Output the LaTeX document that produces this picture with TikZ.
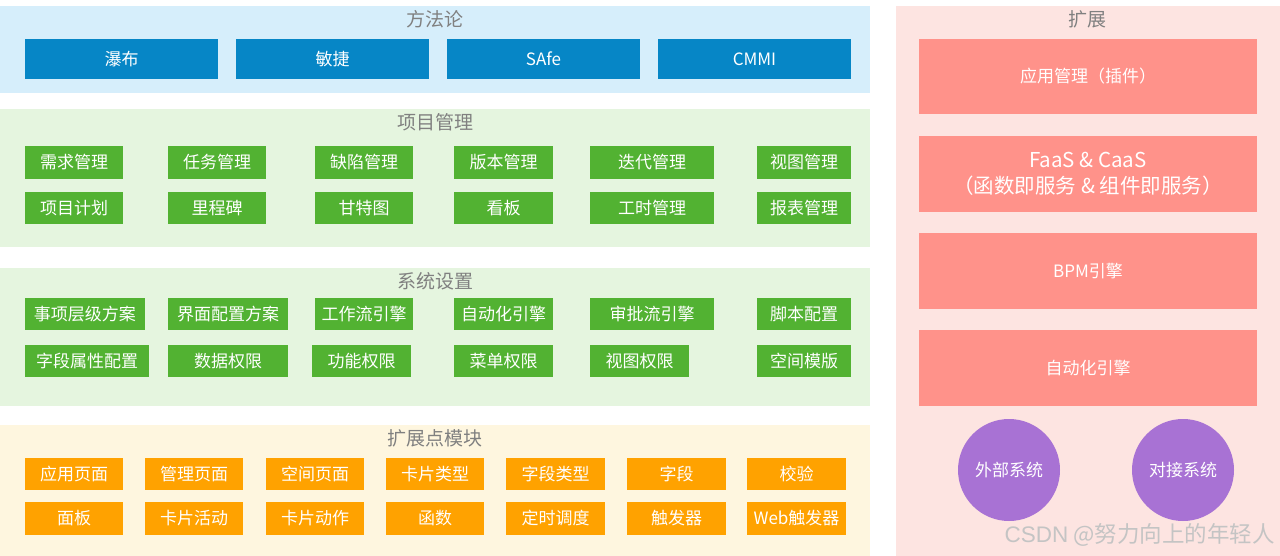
\documentclass[tikz,border=0pt]{standalone}
\usepackage{fontspec}
\setmainfont{Noto Sans CJK SC}
\newfontfamily\wmfont{Liberation Sans}
\definecolor{bluebg}{HTML}{D6EEFB}
\definecolor{bluebox}{HTML}{0686C6}
\definecolor{greenbg}{HTML}{E5F5DF}
\definecolor{greenbox}{HTML}{52B232}
\definecolor{yellowbg}{HTML}{FEF6DF}
\definecolor{orangebox}{HTML}{FFA200}
\definecolor{pinkbg}{HTML}{FDE4E1}
\definecolor{salmonbox}{HTML}{FF928A}
\definecolor{purplec}{HTML}{A872D4}
\definecolor{titlegray}{HTML}{808080}
\definecolor{wmgray}{HTML}{C4C4C4}
\newcommand\bx[7]{%
  \pgfmathsetmacro\bxcx{(#3+#5)/2}\pgfmathsetmacro\bxcy{(#4+#6)/2}%
  \pgfmathsetmacro\bxww{#5-#3}\pgfmathsetmacro\bxhh{#6-#4}%
  \node[#2, minimum width=\bxww pt, minimum height=\bxhh pt] (#1) at (\bxcx,\bxcy) {#7};}
\tikzset{
  base/.style={inner sep=0pt, outer sep=0pt, draw=none, align=center, text=white,
    font=\fontsize{17}{19}\selectfont},
  panel/.style={inner sep=0pt, outer sep=0pt, draw=none},
  ptitle/.style={inner sep=0pt, text=titlegray, font=\fontsize{19}{21}\selectfont},
  bbox/.style={base, fill=bluebox},
  gbox/.style={base, fill=greenbox},
  obox/.style={base, fill=orangebox},
  sbox/.style={base, fill=salmonbox},
  pcirc/.style={circle, inner sep=0pt, outer sep=0pt, fill=purplec, text=white,
    minimum size=102pt, font=\fontsize{17}{19}\selectfont},
}
\begin{document}
\begin{tikzpicture}[x=1pt,y=-1pt]
\useasboundingbox[fill=white] (0,0) rectangle (1280,556);
% panels
\bx{pMethod}{panel, fill=bluebg}{0}{6}{870}{93}{}
\bx{pPM}{panel, fill=greenbg}{0}{109}{870}{247}{}
\bx{pSys}{panel, fill=greenbg}{0}{268}{870}{406}{}
\bx{pExt}{panel, fill=yellowbg}{0}{425}{870}{556}{}
\bx{pRight}{panel, fill=pinkbg}{896}{6}{1280}{556}{}
% titles
\node[ptitle] (tMethod) at (435,19) {方法论};
\node[ptitle] (tPM) at (435,122) {项目管理};
\node[ptitle] (tSys) at (435,281) {系统设置};
\node[ptitle] (tExt) at (435,438) {扩展点模块};
\node[ptitle] (tRight) at (1087,19) {扩展};
% methodology
\bx{m1}{bbox}{25}{39}{218}{79}{瀑布}
\bx{m2}{bbox}{236}{39}{429}{79}{敏捷}
\bx{m3}{bbox}{447}{39}{640}{79}{SAfe}
\bx{m4}{bbox}{658}{39}{851}{79}{CMMI}
% project management
\bx{a1}{gbox}{25}{146}{123}{179}{需求管理}
\bx{a2}{gbox}{168}{146}{266}{179}{任务管理}
\bx{a3}{gbox}{315}{146}{413}{179}{缺陷管理}
\bx{a4}{gbox}{454}{146}{553}{179}{版本管理}
\bx{a5}{gbox}{590}{146}{714}{179}{迭代管理}
\bx{a6}{gbox}{757}{146}{851}{179}{视图管理}
\bx{b1}{gbox}{25}{192}{123}{224}{项目计划}
\bx{b2}{gbox}{168}{192}{266}{224}{里程碑}
\bx{b3}{gbox}{315}{192}{413}{224}{甘特图}
\bx{b4}{gbox}{454}{192}{553}{224}{看板}
\bx{b5}{gbox}{590}{192}{714}{224}{工时管理}
\bx{b6}{gbox}{757}{192}{851}{224}{报表管理}
% system settings
\bx{c1}{gbox}{25}{298}{145}{330}{事项层级方案}
\bx{c2}{gbox}{168}{298}{288}{330}{界面配置方案}
\bx{c3}{gbox}{315}{298}{413}{330}{工作流引擎}
\bx{c4}{gbox}{454}{298}{553}{330}{自动化引擎}
\bx{c5}{gbox}{590}{298}{714}{330}{审批流引擎}
\bx{c6}{gbox}{757}{298}{851}{330}{脚本配置}
\bx{d1}{gbox}{25}{345}{149}{377}{字段属性配置}
\bx{d2}{gbox}{168}{345}{288}{377}{数据权限}
\bx{d3}{gbox}{312}{345}{411}{377}{功能权限}
\bx{d4}{gbox}{454}{345}{553}{377}{菜单权限}
\bx{d5}{gbox}{590}{345}{689}{377}{视图权限}
\bx{d6}{gbox}{757}{345}{851}{377}{空间模版}
% extension points
\bx{e1}{obox}{25}{458}{123}{490}{应用页面}
\bx{e2}{obox}{145}{458}{243}{490}{管理页面}
\bx{e3}{obox}{266}{458}{364}{490}{空间页面}
\bx{e4}{obox}{386}{458}{484}{490}{卡片类型}
\bx{e5}{obox}{506}{458}{605}{490}{字段类型}
\bx{e6}{obox}{627}{458}{726}{490}{字段}
\bx{e7}{obox}{747}{458}{846}{490}{校验}
\bx{f1}{obox}{25}{502}{123}{535}{面板}
\bx{f2}{obox}{145}{502}{243}{535}{卡片活动}
\bx{f3}{obox}{266}{502}{364}{535}{卡片动作}
\bx{f4}{obox}{386}{502}{484}{535}{函数}
\bx{f5}{obox}{506}{502}{605}{535}{定时调度}
\bx{f6}{obox}{627}{502}{726}{535}{触发器}
\bx{f7}{obox}{747}{502}{846}{535}{Web触发器}
% right column
\bx{r1}{sbox}{919}{39}{1257}{114}{应用管理（插件）}
\bx{r2}{sbox, font=\fontsize{20.5}{26}\selectfont}{919}{136}{1257}{212}{FaaS \& CaaS\\（函数即服务 \& 组件即服务）}
\bx{r3}{sbox}{919}{233}{1257}{309}{BPM引擎}
\bx{r4}{sbox}{919}{330}{1257}{406}{自动化引擎}
\node[pcirc] (k1) at (1009,470) {外部系统};
\node[pcirc] (k2) at (1183,470) {对接系统};
% watermark
\node[anchor=east, inner sep=0pt, text=wmgray, font=\fontsize{22.5}{24}\selectfont] (wm) at (1275,535) {{\wmfont CSDN} @努力向上的年轻人};
\end{tikzpicture}
\end{document}
